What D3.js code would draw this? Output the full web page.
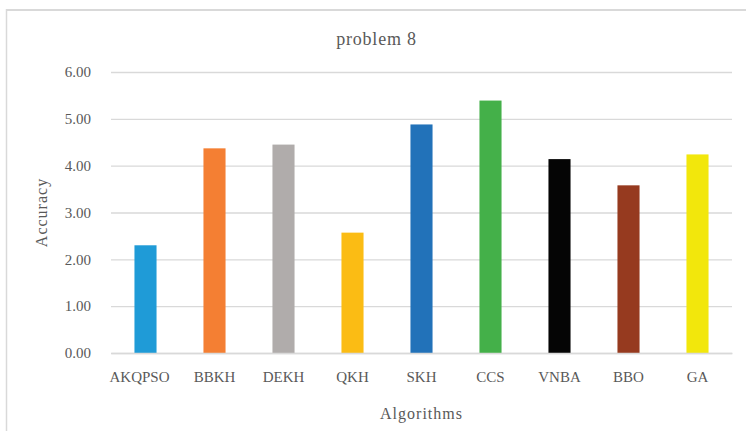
<!DOCTYPE html>
<html>
<head>
<meta charset="utf-8">
<script src="https://cdn.jsdelivr.net/npm/d3@7"></script>
<style>
  html, body { margin: 0; padding: 0; background: #fff; }
  svg { display: block; }
  text { font-family: "Liberation Serif", "DejaVu Serif", serif; fill: #595959; }
</style>
</head>
<body>
<svg id="chart" width="746" height="431"></svg>
<script>
// Accuracy per algorithm on problem 8
const algorithms = ["AKQPSO", "BBKH", "DEKH", "QKH", "SKH", "CCS", "VNBA", "BBO", "GA"];
const accuracy = [2.30, 4.37, 4.45, 2.57, 4.88, 5.39, 4.14, 3.58, 4.24];
const barColors = ["#1f9bd7", "#f47f33", "#b0acab", "#fbbc14", "#2272b9", "#44b049", "#050505", "#963a1f", "#f2e70c"];
const yTicks = [0, 1, 2, 3, 4, 5, 6];

const svg = d3.select("#chart");
const W = 746, H = 431;
const plot = { left: 111, right: 732, top: 72, bottom: 353 };

// chart frame (top and left edges visible)
svg.append("line").attr("x1", 6.5).attr("x2", W).attr("y1", 10).attr("y2", 10)
  .attr("stroke", "#d9d9d9").attr("stroke-width", 2);
svg.append("line").attr("x1", 6.5).attr("x2", 6.5).attr("y1", 9).attr("y2", H)
  .attr("stroke", "#d9d9d9").attr("stroke-width", 1.5);

const x = d3.scaleBand().domain(algorithms).range([plot.left, plot.right]).paddingInner(0.68).paddingOuter(0.34);
const y = d3.scaleLinear().domain([0, 6]).range([plot.bottom, plot.top]);

// horizontal gridlines + y tick labels
const yAxis = d3.axisLeft(y).tickValues(yTicks).tickFormat(d3.format(".2f"))
  .tickSize(-(plot.right - plot.left)).tickPadding(20);
const gy = svg.append("g").attr("transform", `translate(${plot.left},0)`).call(yAxis);
gy.select(".domain").remove();
gy.selectAll(".tick line").attr("stroke", "#d9d9d9").attr("stroke-width", 1.3);
gy.selectAll(".tick text").attr("font-size", 15).style("font-family", "Liberation Serif").attr("fill", "#595959");

// bars
svg.append("g").selectAll("rect").data(algorithms).join("rect")
  .attr("x", d => x(d))
  .attr("width", x.bandwidth())
  .attr("y", (d, i) => y(accuracy[i]))
  .attr("height", (d, i) => y(0) - y(accuracy[i]))
  .attr("fill", (d, i) => barColors[i]);

// category axis
const xAxis = d3.axisBottom(x).tickSize(0).tickPadding(18);
const gx = svg.append("g").attr("transform", `translate(0,${plot.bottom})`).call(xAxis);
gx.select(".domain").attr("stroke", "#d9d9d9").attr("stroke-width", 1.3);
gx.selectAll(".tick text").attr("font-size", 15).style("font-family", "Liberation Serif").attr("fill", "#595959")
  .attr("dx", (d, i) => i === 0 ? -6 : 0);

// titles
svg.append("text").attr("x", 376.5).attr("y", 45).attr("text-anchor", "middle")
  .attr("font-size", 18).attr("letter-spacing", 0.8).text("problem 8");
svg.append("text").attr("x", (plot.left + plot.right) / 2).attr("y", 419).attr("text-anchor", "middle")
  .attr("font-size", 16).attr("letter-spacing", 1).text("Algorithms");
svg.append("text").attr("transform", `translate(47,${(plot.top + plot.bottom) / 2}) rotate(-90)`)
  .attr("text-anchor", "middle").attr("font-size", 16).attr("letter-spacing", 1).text("Accuracy");
</script>
</body>
</html>
